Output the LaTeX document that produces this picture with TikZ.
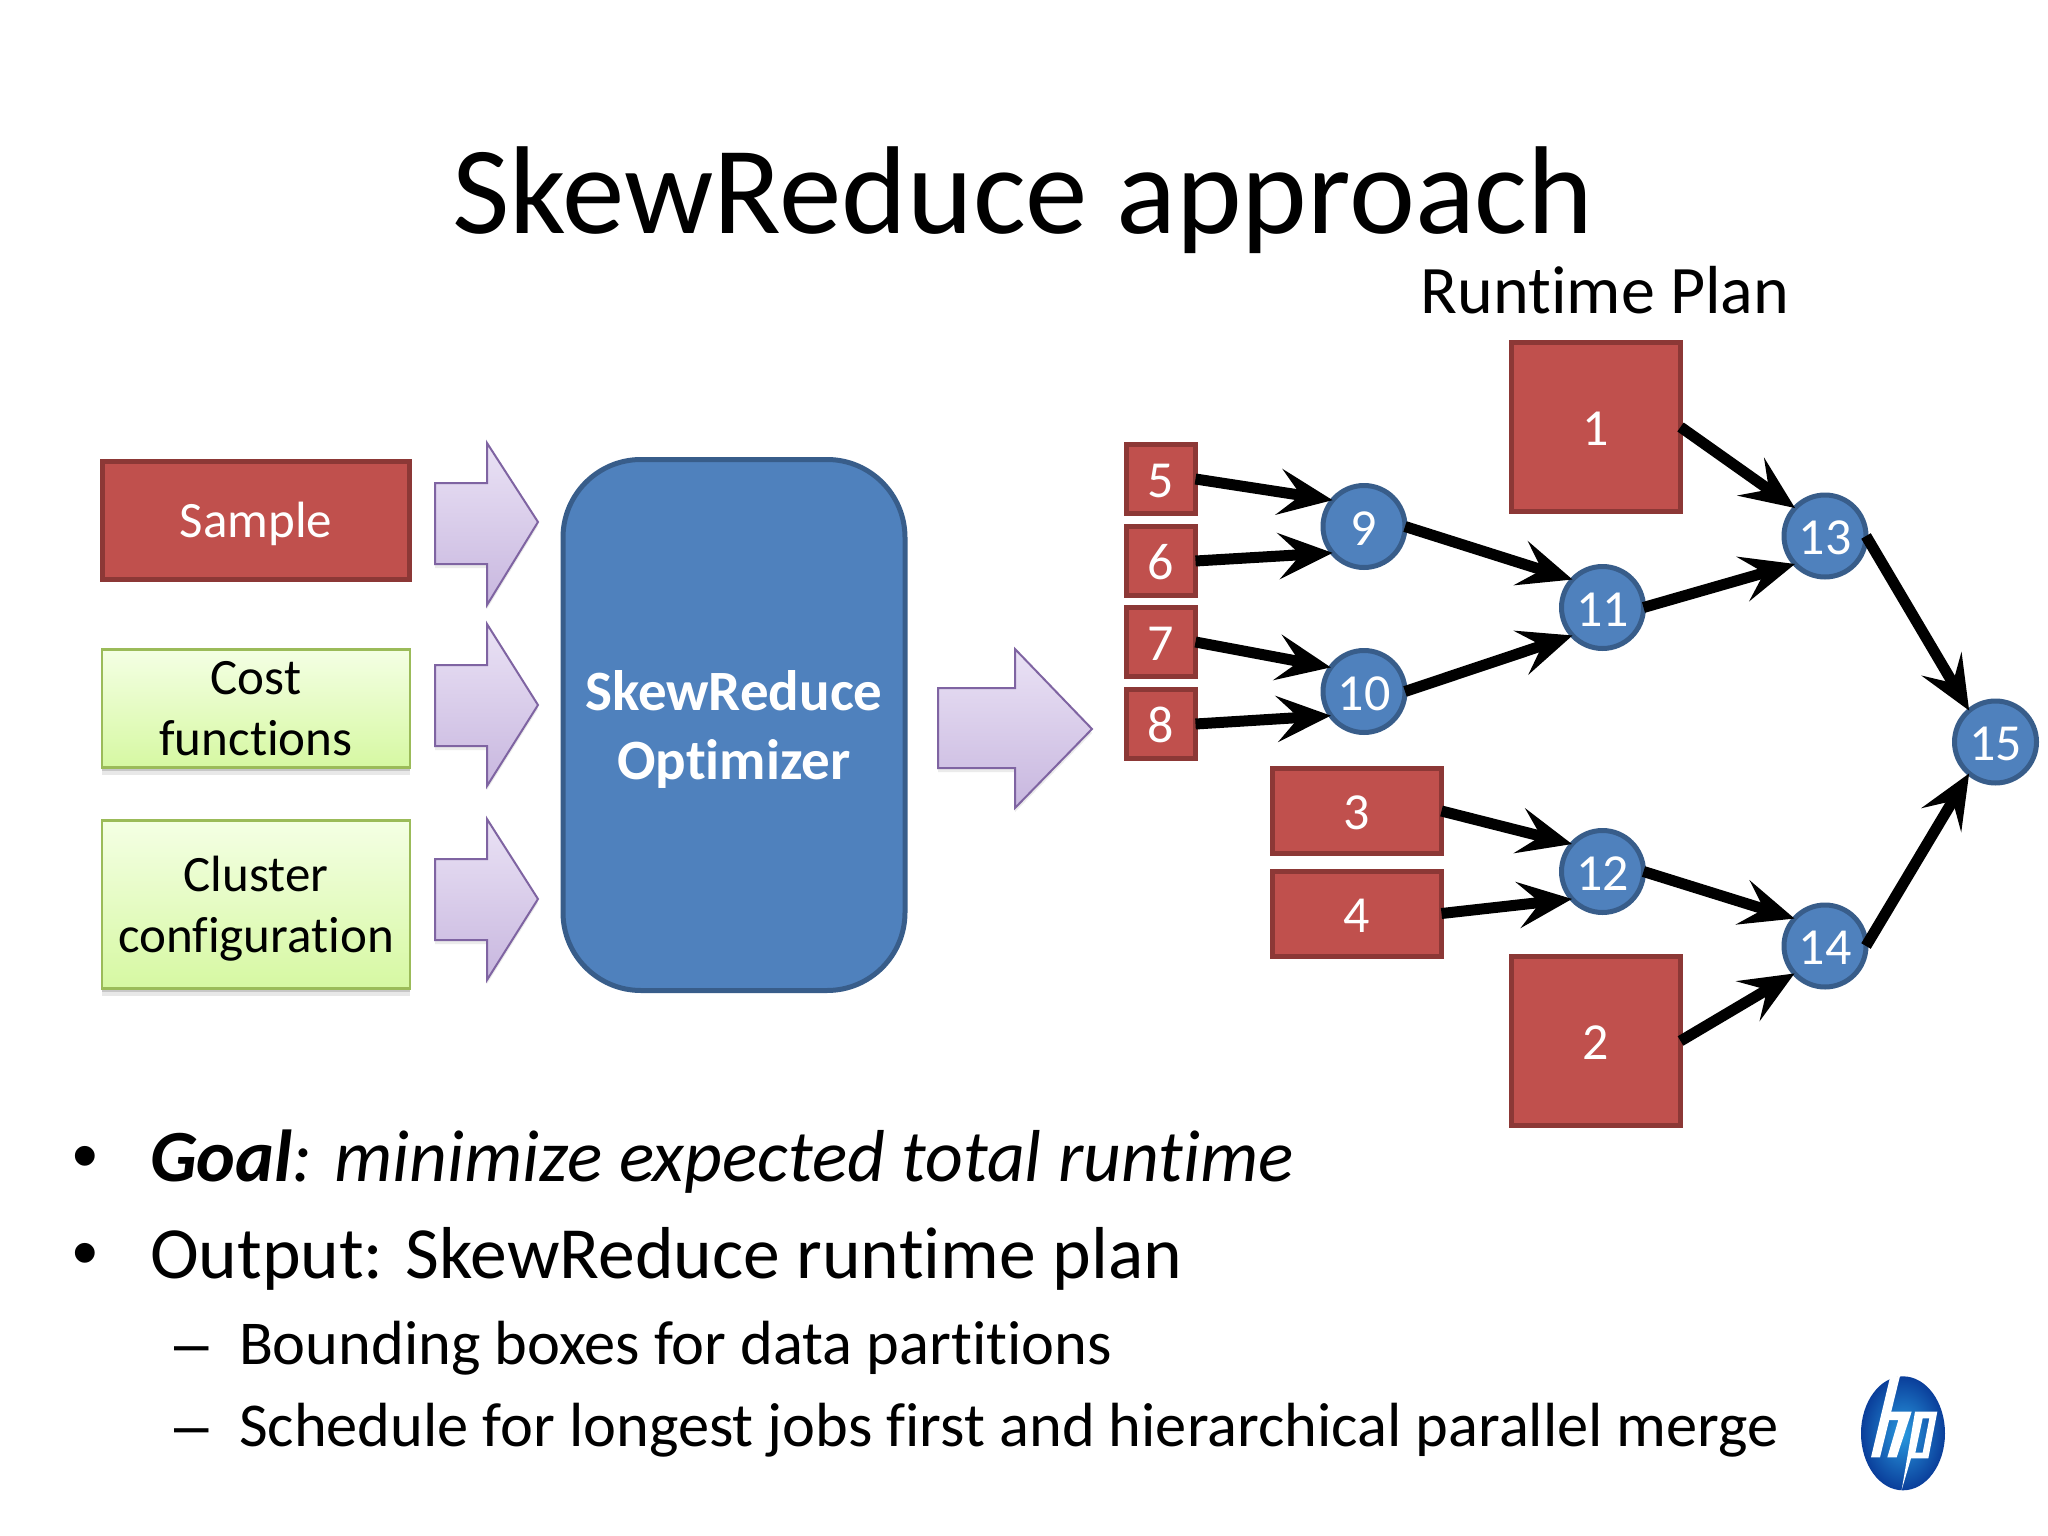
\documentclass[tikz,border=0pt]{standalone}
\usepackage{fontspec}
\setmainfont[RawFeature=-liga]{Carlito}
\newfontfamily\markfont{Liberation Sans}
\usetikzlibrary{arrows.meta,shadows,shapes.geometric}
\definecolor{redfill}{HTML}{C0504D}
\definecolor{redline}{HTML}{8C3836}
\definecolor{bluefill}{HTML}{4F81BD}
\definecolor{blueline}{HTML}{385D8A}
\definecolor{greenline}{HTML}{9BBB59}
\definecolor{greentop}{HTML}{F4FFE4}
\definecolor{greenbot}{HTML}{D6F8A2}
\definecolor{purpline}{HTML}{7F64A2}
\definecolor{purptop}{HTML}{EAE2F5}
\definecolor{purpbot}{HTML}{C8B7DF}
\definecolor{logolight}{HTML}{2A9AE0}
\definecolor{logodark}{HTML}{0A3E9A}
\tikzset{
  fs/.style n args={2}{font=\fontsize{#1}{#2}\selectfont},
  softshadow/.style={drop shadow={shadow xshift=0pt,shadow yshift=-3pt,opacity=.14,fill=black},
    drop shadow={shadow xshift=0pt,shadow yshift=-7pt,opacity=.09,fill=black}},
  redbox/.style={draw=redline,fill=redfill,line width=5pt,text=white,inner sep=0pt,outer sep=0pt,fs={52}{60},text height=37pt,text depth=0pt},
  greenbox/.style={draw=greenline,line width=2.5pt,top color=greentop,bottom color=greenbot,inner sep=0pt,outer sep=0pt,align=center,fs={51}{61},softshadow},
  circ/.style={circle,draw=blueline,fill=bluefill,line width=5pt,text=white,inner sep=0pt,outer sep=0pt,minimum size=82pt,fs={52}{60},text height=37pt,text depth=0pt},
  optbox/.style={draw=blueline,fill=bluefill,line width=5pt,rounded corners=78pt,text=white,align=center,inner sep=0pt,outer sep=0pt,minimum width=342pt,minimum height=531pt,text depth=0pt},
  fatarrow/.style={draw=purpline,line width=2pt,top color=purptop,bottom color=purpbot,line join=miter,
    drop shadow={shadow xshift=0pt,shadow yshift=-4pt,opacity=.08,fill=black}},
  edge/.style={line width=11pt,draw=black,-{Stealth[length=54pt,width=46pt,inset=22pt]}},
  bodytext/.style={anchor=base west,inner sep=0pt,outer sep=0pt},
}
\begin{document}
\begin{tikzpicture}[x=1pt,y=-1pt]
\useasboundingbox (0,0) rectangle (2048,1536);
\fill[white] (0,0) rectangle (2048,1536);
% titles
\node[anchor=base,inner sep=0pt,fs={125}{140}] (title) at (1023,233) {SkewReduce approach};
\node[anchor=base,inner sep=0pt,fs={68}{80}] (plan) at (1605,313) {Runtime Plan};
% inputs
\node[redbox,minimum width=307pt,minimum height=118pt,fs={51}{61},text height=33pt] (sample) at (256,520.5) {Sample};
\node[greenbox,minimum width=308pt,minimum height=118pt] (cost) at (256,708.5) {Cost\\functions};
\node[greenbox,minimum width=308pt,minimum height=168pt,text depth=0pt] (cluster) at (256,904.5) {Cluster\\configuration};
% fat arrows
\draw[fatarrow] (435,483) -- (487,483) -- (487,443) -- (538,522) -- (487,605) -- (487,564) -- (435,564) -- cycle;
\draw[fatarrow] (435,665) -- (487,665) -- (487,624) -- (538,705) -- (487,786) -- (487,746) -- (435,746) -- cycle;
\draw[fatarrow] (435,859) -- (487,859) -- (487,819) -- (538,899) -- (487,980) -- (487,940) -- (435,940) -- cycle;
\node[optbox,font=\fontsize{57}{69}\selectfont\bfseries] (opt) at (734,725) {SkewReduce\\Optimizer};
\draw[fatarrow] (938,688) -- (1015,688) -- (1015,649) -- (1092,729) -- (1015,808) -- (1015,768) -- (938,768) -- cycle;
% plan boxes
\node[redbox,minimum width=69pt,minimum height=69pt] (n5) at (1161,479) {5};
\node[redbox,minimum width=69pt,minimum height=69pt] (n6) at (1161,561) {6};
\node[redbox,minimum width=69pt,minimum height=69pt] (n7) at (1161,642) {7};
\node[redbox,minimum width=69pt,minimum height=69pt] (n8) at (1161,724) {8};
\node[redbox,minimum width=169pt,minimum height=85pt] (n3) at (1357,811) {3};
\node[redbox,minimum width=169pt,minimum height=85pt] (n4) at (1357,913.5) {4};
\node[redbox,minimum width=169pt,minimum height=169pt] (n1) at (1596,427) {1};
\node[redbox,minimum width=169pt,minimum height=169pt] (n2) at (1596,1041) {2};
% plan circles
\node[circ] (n9) at (1364,526.5) {9};
\node[circ] (n10) at (1364,691.5) {10};
\node[circ] (n11) at (1602.5,607.5) {11};
\node[circ] (n12) at (1602.5,871.5) {12};
\node[circ] (n13) at (1825,536) {13};
\node[circ] (n14) at (1825,946) {14};
\node[circ] (n15) at (1995.5,742) {15};
% edges
\draw[edge] (n5.east) -- (n9.140);
\draw[edge] (n6.east) -- (n9.220);
\draw[edge] (n7.east) -- (n10.144);
\draw[edge] (n8.east) -- (n10.216);
\draw[edge] (n9.east) -- (n11.137);
\draw[edge] (n10.east) -- (n11.223);
\draw[edge] (n11.east) -- (n13.223);
\draw[edge] (n1.east) -- (n13.137);
\draw[edge] (n13.east) -- (n15.130);
\draw[edge] (n14.east) -- (n15.230);
\draw[edge] (n3.east) -- (n12.138);
\draw[edge] (n4.east) -- (n12.222);
\draw[edge] (n12.east) -- (n14.138);
\draw[edge] (n2.east) -- (n14.222);
% bullets
\node[bodytext,font=\fontsize{73}{84}\selectfont\markfont] (b1m) at (72,1180) {•};
\node[bodytext,fs={73.6}{84}] (b1) at (150,1181) {\textit{\textbf{Goal}: minimize expected total runtime}};
\node[bodytext,font=\fontsize{73}{84}\selectfont\markfont] (b2m) at (72,1277) {•};
\node[bodytext,fs={73.6}{84}] (b2) at (150,1278) {Output: SkewReduce runtime plan};
\node[bodytext,font=\fontsize{62}{72}\selectfont\markfont] (b3m) at (174,1364) {–};
\node[bodytext,fs={62.4}{72}] (b3) at (239,1364) {Bounding boxes for data partitions};
\node[bodytext,font=\fontsize{62}{72}\selectfont\markfont] (b4m) at (174,1446) {–};
\node[bodytext,fs={62.4}{72}] (b4) at (239,1446) {Schedule for longest jobs first and hierarchical parallel merge};
% logo
\begin{scope}[shift={(1800,1340)},x=0.3333pt,y=-0.3333pt]
\shade[inner color=logolight,outer color=logodark] (309,280) ellipse [x radius=126,y radius=171];
\fill[white] (270,112) -- (300,108) -- (240,352) -- (213,352) -- cycle;
\fill[white] (255,215) -- (335,215) -- (290,352) -- (262,352) -- (295,240) -- (250,240) -- cycle;
\fill[white,even odd rule] (345,215) -- (412,215) -- (385,355) -- (333,355) -- (305,450) -- (305,450) -- (345,215)
  (368,235) -- (388,235) -- (368,338) -- (346,338) -- cycle;
\end{scope}
\end{tikzpicture}
\end{document}
